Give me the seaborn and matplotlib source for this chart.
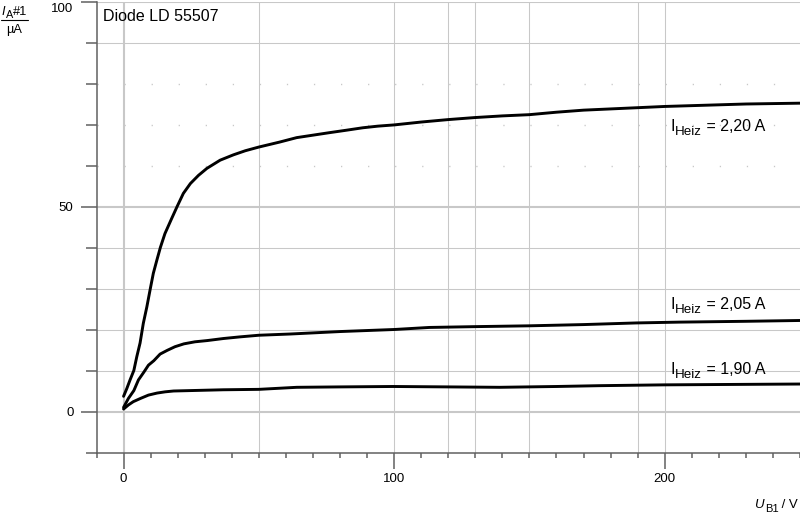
import numpy as np
import pandas as pd
import matplotlib
matplotlib.use('Agg')
import matplotlib.pyplot as plt
import seaborn as sns
from matplotlib.ticker import MultipleLocator, FixedLocator, FuncFormatter
from matplotlib.lines import Line2D

# ---- data ----
u_220 = [0, 1.2, 2.4, 3.8, 4.9, 6.1, 7.3, 8.6, 9.9, 11.0, 12.3, 13.6, 15.3, 17.8, 19.8,
         22.1, 24.7, 27.7, 30.8, 35.7, 40.6, 45, 50, 57.6, 64, 70, 76, 82.3, 88.4, 94,
         100, 110, 120, 130, 140, 150, 160, 170, 180, 190, 200, 210, 220, 230, 240, 250]
i_220 = [3.7, 5.6, 7.7, 10.0, 13.4, 16.7, 21.5, 25.5, 30.0, 33.7, 36.9, 40.0, 43.4, 47.1, 50.0,
         53.2, 55.6, 57.6, 59.3, 61.3, 62.6, 63.6, 64.5, 65.7, 66.8, 67.4, 68.0, 68.6, 69.2, 69.6,
         69.9, 70.6, 71.2, 71.7, 72.1, 72.4, 73.0, 73.5, 73.8, 74.1, 74.4, 74.6, 74.8, 75.0, 75.1, 75.2]

u_205 = [0, 1.8, 3.8, 5.5, 7.5, 9.2, 11.2, 13.5, 16.1, 19.0, 22.3, 26.4, 30.9, 36.9, 43.0,
         50, 61.6, 80, 100, 113, 130, 150, 170, 189.5, 205.5, 230, 250]
i_205 = [1.0, 3.2, 5.1, 7.7, 9.6, 11.3, 12.4, 14.0, 14.9, 15.8, 16.5, 17.0, 17.3, 17.8, 18.2,
         18.6, 18.9, 19.5, 20.0, 20.5, 20.7, 20.9, 21.2, 21.6, 21.8, 22.0, 22.2]

u_190 = [0, 1.8, 3.6, 6.3, 9.2, 12.4, 15.4, 18.5, 24.6, 36.9, 50, 64, 80, 99.5, 120,
         139, 160, 176, 200, 225, 250]
i_190 = [0.6, 1.6, 2.4, 3.2, 4.0, 4.5, 4.8, 5.0, 5.1, 5.3, 5.4, 5.9, 6.0, 6.1, 6.0,
         5.9, 6.1, 6.3, 6.5, 6.6, 6.7]

curve_names = ['2,20 A', '2,05 A', '1,90 A']
label_u = [202, 202, 202]
label_i = [68.3, 24.9, 9.06]
title_text = 'Diode LD 55507'

df = pd.concat([
    pd.DataFrame({'U': u_220, 'I': i_220, 'curve': curve_names[0]}),
    pd.DataFrame({'U': u_205, 'I': i_205, 'curve': curve_names[1]}),
    pd.DataFrame({'U': u_190, 'I': i_190, 'curve': curve_names[2]}),
])

# ---- style ----
sns.set_theme(style='white')
plt.rcParams['font.family'] = ['Liberation Sans', 'DejaVu Sans']

fig = plt.figure(figsize=(8, 5.32), dpi=100)
ax = fig.add_axes([96.5 / 800, 1 - 452.5 / 532, 703.5 / 800, 451 / 532])

gc = '#c8c8c8'
sc = '#606060'

for y in [10, 20, 30, 40, 90]:
    ax.axhline(y, color=gc, lw=0.75, zorder=0)
for y in [0, 50]:
    ax.axhline(y, color=gc, lw=1.5, zorder=0)
ax.axhline(100, color=gc, lw=1.5, zorder=0)
for y in [60, 70, 80]:
    ax.axhline(y, color=gc, lw=1.0, ls=(0, (0.9, 18.58)), zorder=0)
for x in [50, 100, 120, 130, 150, 190, 200]:
    ax.axvline(x, color=gc, lw=0.75, zorder=0)
ax.axvline(0, color=gc, lw=1.5, zorder=0)

sns.lineplot(data=df, x='U', y='I', hue='curve', palette=['black'] * 3,
             legend=False, lw=2.1, sort=False, estimator=None, ax=ax)

ax.set_xlim(-10, 250)
ax.set_ylim(-10, 100)
ax.set_xlabel('')
ax.set_ylabel('')

ax.xaxis.set_major_locator(FixedLocator([0, 100, 200]))
ax.xaxis.set_minor_locator(MultipleLocator(10))
ax.yaxis.set_major_locator(FixedLocator([0, 50, 100]))
ax.yaxis.set_minor_locator(MultipleLocator(10))
ax.yaxis.set_major_formatter(FuncFormatter(lambda v, p: '' if v >= 100 else f'{v:g}'))

ax.tick_params(axis='x', which='major', bottom=True, length=11.5, width=1.1,
               color=sc, direction='out', pad=3, labelsize=9.5, labelcolor='black')
ax.tick_params(axis='x', which='minor', bottom=True, length=3.8, width=1.1,
               color=sc, direction='out')
ax.tick_params(axis='y', which='major', left=True, length=11.5, width=1.1,
               color=sc, direction='out', pad=5, labelsize=9.5, labelcolor='black')
ax.tick_params(axis='y', which='minor', left=True, length=8, width=1.1,
               color=sc, direction='out')

for s in ['top', 'right']:
    ax.spines[s].set_visible(False)
for s in ['left', 'bottom']:
    ax.spines[s].set_color(sc)
    ax.spines[s].set_linewidth(1.1)

ax.annotate('100', xy=(0, 100), xycoords=('axes fraction', 'data'),
            xytext=(-23.5, -7.5), textcoords='offset pixels',
            ha='right', va='center', fontsize=9.5, color='black',
            annotation_clip=False)

ax.text(-7.6, 95.2, title_text, fontsize=11.5, va='baseline', color='black')


def chained_label(x, y, coords, main, sub, rest, main_size, sub_size, sub_dy,
                  main_style='normal'):
    """Main text, a subscript, then the rest on the main baseline."""
    t1 = ax.annotate(main, xy=(x, y), xycoords=coords, fontsize=main_size,
                     fontstyle=main_style, va='baseline', ha='left', color='black',
                     annotation_clip=False)
    t2 = ax.annotate(sub, xy=(1, y), xycoords=(t1, coords), xytext=(0.5, sub_dy),
                     textcoords='offset pixels', fontsize=sub_size, va='baseline',
                     ha='left', color='black', annotation_clip=False)
    ax.annotate(rest, xy=(1, y), xycoords=(t2, coords), fontsize=main_size,
                va='baseline', ha='left', color='black', annotation_clip=False)


for name, lu, li in zip(curve_names, label_u, label_i):
    chained_label(lu, li, 'data', 'I', 'Heiz', ' = ' + name, 11.5, 9.6, -4.0)

# y axis label (fraction style)
chained_label(1.5, 532 - 15, 'figure pixels', 'I', 'A', '#1', 9.2, 7.8, -3.0,
              main_style='italic')
fig.add_artist(Line2D([1 / 800, 28 / 800], [1 - 19.5 / 532] * 2, color='black', lw=0.8))
fig.text(14 / 800, 1 - 33 / 532, 'µA', ha='center', va='baseline', fontsize=9.2,
         color='black')

# x axis label
chained_label(754.5, 532 - 508.5, 'figure pixels', 'U', 'B1', ' / V', 9.5, 8, -3.5,
              main_style='italic')

fig.savefig('out.png', dpi=100)
